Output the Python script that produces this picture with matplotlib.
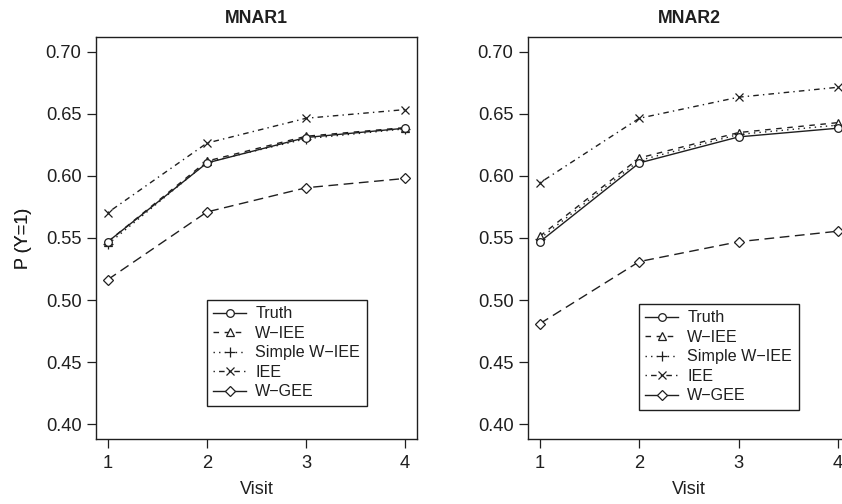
import matplotlib
matplotlib.use("Agg")
import matplotlib.pyplot as plt
from matplotlib.lines import Line2D

plt.rcParams['font.family'] = ['Liberation Sans', 'DejaVu Sans']

visits = [1, 2, 3, 4]
series_names = ["Truth", "W\u2212IEE", "Simple W\u2212IEE", "IEE", "W\u2212GEE"]

mnar1_truth = [0.547, 0.6105, 0.631, 0.6385]
mnar1_wiee = [0.547, 0.612, 0.632, 0.639]
mnar1_simple = [0.545, 0.611, 0.630, 0.638]
mnar1_iee = [0.5705, 0.6265, 0.6465, 0.6535]
mnar1_wgee = [0.5165, 0.571, 0.5905, 0.598]

mnar2_truth = [0.547, 0.6105, 0.6315, 0.6385]
mnar2_wiee = [0.5515, 0.6145, 0.635, 0.643]
mnar2_simple = [0.5495, 0.6125, 0.6335, 0.641]
mnar2_iee = [0.5945, 0.6465, 0.6635, 0.6715]
mnar2_wgee = [0.481, 0.531, 0.547, 0.5555]

yticks = [0.40, 0.45, 0.50, 0.55, 0.60, 0.65, 0.70]
ytick_labels = ["0.40", "0.45", "0.50", "0.55", "0.60", "0.65", "0.70"]

ink = '#1f1f1f'
styles = [
    dict(ls='-', marker='o', mfc='white'),
    dict(ls=(0, (4, 4)), marker='^', mfc='white'),
    dict(ls=(0, (1, 3)), marker='+', mfc='none'),
    dict(ls=(0, (1, 3, 4, 3)), marker='x', mfc='none'),
    dict(ls=(0, (7, 4)), marker='D', mfc='white'),
]
msizes = [5.5, 5.5, 7.5, 5.5, 5.0]

fig = plt.figure(figsize=(8.42, 5.04), dpi=100)

panels = [
    ("MNAR1", [mnar1_truth, mnar1_wiee, mnar1_simple, mnar1_iee, mnar1_wgee],
     [96/842, 1-439/504, 321/842, 402/504], (207, 300, 362, 407)),
    ("MNAR2", [mnar2_truth, mnar2_wiee, mnar2_simple, mnar2_iee, mnar2_wgee],
     [528/842, 1-439/504, 322/842, 402/504], (639, 304, 793, 408)),
]

for title, data, pos, leg in panels:
    ax = fig.add_axes(pos)
    handles = []
    for i, (vals, st) in enumerate(zip(data, styles)):
        ms = msizes[i]
        ax.plot(visits, vals, color=ink, lw=1.0, linestyle=st['ls'],
                marker=st['marker'], markersize=ms, markerfacecolor=st['mfc'],
                markeredgecolor=ink, markeredgewidth=0.9, zorder=3 + (4 - i) * 0.1)
        hls = st['ls'] if i != 4 else '-'
        handles.append(Line2D([], [], color=ink, lw=1.0, linestyle=hls,
                              marker=st['marker'], markersize=ms,
                              markerfacecolor=st['mfc'], markeredgecolor=ink,
                              markeredgewidth=0.9))
    ax.set_xlim(0.88, 4.12)
    ax.set_ylim(0.388, 0.712)
    ax.set_xticks(visits)
    ax.set_xticklabels([str(v) for v in visits])
    ax.set_yticks(yticks)
    ax.set_yticklabels(ytick_labels)
    ax.tick_params(direction='out', length=6.5, width=0.9, colors=ink,
                   labelsize=13.2, labelcolor=ink)
    ax.tick_params(axis='y', pad=4)
    ax.tick_params(axis='x', pad=5)
    for sp in ax.spines.values():
        sp.set_color(ink)
        sp.set_linewidth(1.0)
    ax.set_title(title, fontsize=12.8, fontweight='bold', color=ink, pad=10)
    ax.set_ylabel("P (Y=1)", fontsize=13, color=ink)
    ax.set_xlabel("Visit", fontsize=13, color=ink)
    ax.yaxis.set_label_coords((23 - pos[0]*842) / (pos[2]*842), 0.5)
    ax.yaxis.label.set_va('center')
    ax.xaxis.set_label_coords(0.5, -(489 - 439) / 402)
    ax.xaxis.label.set_va('center')

    x0p, y0p, x1p, y1p = leg
    ax_l = pos[0]*842
    ax_t = 504 - (pos[1] + pos[3]) * 504
    lx = (x0p - ax_l) / (pos[2]*842)
    ly = 1 - (y0p - ax_t) / (pos[3]*504)
    lg = ax.legend(handles, series_names, loc='upper left', bbox_to_anchor=(lx, ly),
                   borderaxespad=0, frameon=True, fancybox=False, fontsize=11.6,
                   handlelength=2.0, handletextpad=0.6, labelspacing=0.28,
                   borderpad=0.4, labelcolor=ink)
    fr = lg.get_frame()
    fr.set_edgecolor(ink)
    fr.set_linewidth(1.0)
    fr.set_alpha(1)

fig.savefig("out.png", dpi=100)
